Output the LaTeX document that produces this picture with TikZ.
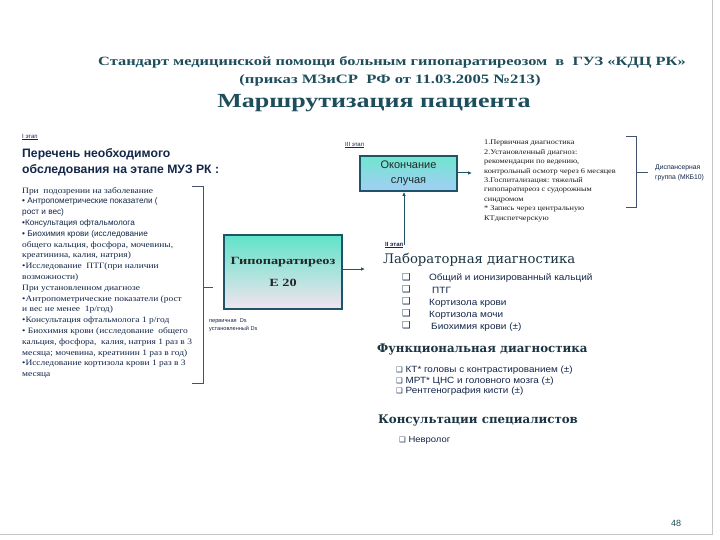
\documentclass[tikz,border=0pt]{standalone}
\usepackage{fontspec}
\setmainfont{Liberation Serif}
\newfontfamily\lsans{Liberation Sans}
\newfontfamily\wsans[FakeStretch=1.1]{Liberation Sans}
\newfontfamily\dsans{DejaVu Sans}
\newfontfamily\dserif{DejaVu Serif}
\newfontfamily\ttlfont[FakeStretch=1.3]{Liberation Serif}
\newfontfamily\wserif[FakeStretch=1.15]{Liberation Serif}
\usetikzlibrary{arrows.meta}
\definecolor{ttl}{HTML}{1E4D5C}
\definecolor{ink}{HTML}{14264A}
\definecolor{edge}{HTML}{1E5468}
\definecolor{turq}{HTML}{5FE3C8}
\definecolor{lblue}{HTML}{7DB8F2}
\definecolor{pinkb}{HTML}{F3E3F0}
\definecolor{headc}{HTML}{1A3442}
\newcommand{\cbx}{{\dsans ❑}}
\tikzset{
  txt/.style={inner sep=0pt, anchor=west, text=ink},
  tiny/.style={txt, font=\lsans\fontsize{6}{7}\selectfont},
  head/.style={txt, text=headc, font=\dserif\fontsize{13.2}{14}\selectfont},
  conn/.style={draw=edge, line width=1pt},
  arr/.style={conn, -{Latex[length=4pt,width=3.5pt]}},
  brk/.style={draw=ink!80, line width=0.9pt},
}
\begin{document}
\begin{tikzpicture}[x=1pt,y=-1pt]
\useasboundingbox (0,0) rectangle (720,540);
\fill[white] (0,0) rectangle (720,540);
\draw[gray!45, line width=0.8pt] (712,0) -- (712,534) -- (0,534);

% title
\node[text=ttl, font=\ttlfont\bfseries\fontsize{12.6}{14}\selectfont, inner sep=0pt] (t1) at (392,62) {Стандарт медицинской помощи больным гипопаратиреозом \ в \ ГУЗ «КДЦ РК»};
\node[text=ttl, font=\ttlfont\bfseries\fontsize{12.8}{14}\selectfont, inner sep=0pt] (t2) at (390,80) {(приказ МЗиСР \ РФ от 11.03.2005 №213)};
\node[text=ttl, font=\ttlfont\bfseries\fontsize{20}{24}\selectfont, inner sep=0pt] (t3) at (374,103) {Маршрутизация пациента};

% stage I
\node[tiny] (s1) at (22,137) {\underline{I этап}};
\node[txt, font=\lsans\bfseries\fontsize{12.2}{16}\selectfont, align=left, anchor=north west] (perech) at (22,148) {Перечень необходимого\\ обследования на этапе МУЗ РК :};
\node[txt, anchor=north west, align=left, font=\wserif\fontsize{8.2}{10.8}\selectfont] (list) at (22,187) {%
При \ подозрении на заболевание\\
{\lsans • Антропометрические показатели (}\\
{\lsans рост и вес)}\\
{\lsans •Консультация офтальмолога}\\
{\lsans • Биохимия крови (исследование}\\
общего кальция, фосфора, мочевины,\\
креатинина, калия, натрия)\\
•Исследование \ ПТГ(при наличии\\
возможности)\\
При установленном диагнозе\\
•Антропометрические показатели (рост\\
и вес не менее \ 1р/год)\\
•Консультация офтальмолога 1 р/год\\
• Биохимия крови (исследование \ общего\\
кальция, фосфора, \ калия, натрия 1 раз в 3\\
месяца; мочевина, креатинин 1 раз в год)\\
•Исследование кортизола крови 1 раз в 3\\
месяца};

% left bracket
\coordinate (bt) at (192,186);
\coordinate (bb) at (192,383);
\coordinate (bm) at (213,287);
\draw[brk] (bt) -- (203,186) -- (203,383) -- (bb);
\draw[brk] (203,287) -- (bm);

% central box
\node[draw=edge, line width=1.8pt, top color=turq, middle color=lblue, bottom color=pinkb, shading=axis,
      minimum width=118pt, minimum height=74pt, inner sep=0pt, align=center,
      font=\ttlfont\bfseries\fontsize{11}{22}\selectfont, text=black!85] (hypo) at (283,272) {Гипопаратиреоз\\Е 20};
\coordinate (harr) at (365,269);
\draw[arr] (hypo.east |- harr) -- (harr);
\node[tiny, font=\lsans\fontsize{5.6}{7}\selectfont] (ds1) at (209,321) {первичная \ Ds};
\node[tiny, font=\lsans\fontsize{5.6}{7}\selectfont] (ds2) at (209,329) {установленный Ds};

% stage III
\node[tiny] (s3) at (345,145) {\underline{III этап}};
\node[draw=edge, line width=1.8pt, top color=turq!90, bottom color=lblue!70!white, shading=axis,
      minimum width=97pt, minimum height=35pt, inner sep=0pt, align=center,
      font=\lsans\fontsize{11}{15}\selectfont, text=black!85] (endc) at (408.5,173.5) {Окончание\\случая};
\coordinate (varr) at (404,245);
\draw[arr] (varr) -- (endc.south -| varr);
\coordinate (earr) at (472,173);
\draw[arr] (endc.east |- earr) -- (earr);
\node[txt, anchor=north west, align=left, font=\wserif\fontsize{7.2}{9.4}\selectfont, text=black!90] (rlist) at (484,140) {%
1.Первичная диагностика\\
2.Установленный диагноз:\\
рекомендации по ведению,\\
контрольный осмотр через 6 месяцев\\
3.Госпитализация: тяжелый\\
гипопаратиреоз с судорожным\\
синдромом\\
* Запись через центральную\\
КТдиспетчерскую};

% right brace
\coordinate (rt) at (626,136);
\coordinate (rb) at (626,207);
\coordinate (rm) at (648,172);
\draw[brk] (rt) -- (636,136) -- (636,207) -- (rb);
\draw[brk] (636,172) -- (rm);
\node[txt, align=left, font=\lsans\fontsize{6.8}{10}\selectfont] (disp) at (655,173) {Диспансерная\\группа (МКБ10)};

% stage II
\node[tiny, font=\lsans\bfseries\fontsize{6}{7}\selectfont] (s2) at (385,245) {\underline{II этап}};
\node[head] (lab) at (383,260) {Лабораторная диагностика};
\node[txt, anchor=north west, align=left, font=\fontsize{9.5}{12.2}\selectfont] (labcb) at (402,273) {\cbx\\\cbx\\\cbx\\\cbx\\\cbx};
\node[txt, anchor=north west, align=left, font=\wsans\fontsize{9.1}{12.2}\selectfont] (labl) at (429,274) {%
Общий и ионизированный кальций\\
\hspace{3pt}ПТГ\\
Кортизола крови\\
Кортизола мочи\\
\hspace{2pt}Биохимия крови (±)};

\node[head, font=\dserif\bfseries\fontsize{11.8}{14}\selectfont, text=headc] (func) at (377,350) {Функциональная диагностика};
\node[txt, anchor=north west, align=left, font=\wsans\fontsize{9}{10.5}\selectfont] (funcl) at (396,366) {%
{\dsans\fontsize{7.5}{8}\selectfont ❑} КТ* головы с контрастированием (±)\\
{\dsans\fontsize{7.5}{8}\selectfont ❑} МРТ* ЦНС и головного мозга (±)\\
{\dsans\fontsize{7.5}{8}\selectfont ❑} Рентгенография кисти (±)};

\node[head, font=\dserif\bfseries\fontsize{11.8}{14}\selectfont, text=headc] (cons) at (378,421) {Консультации специалистов};
\node[txt, font=\wsans\fontsize{8.6}{10}\selectfont] (nevr) at (399,440) {{\dsans\fontsize{7.5}{8}\selectfont ❑} Невролог};

\node[txt, text=ttl, font=\lsans\fontsize{9}{10}\selectfont] (pg) at (671,523) {48};
\end{tikzpicture}
\end{document}
